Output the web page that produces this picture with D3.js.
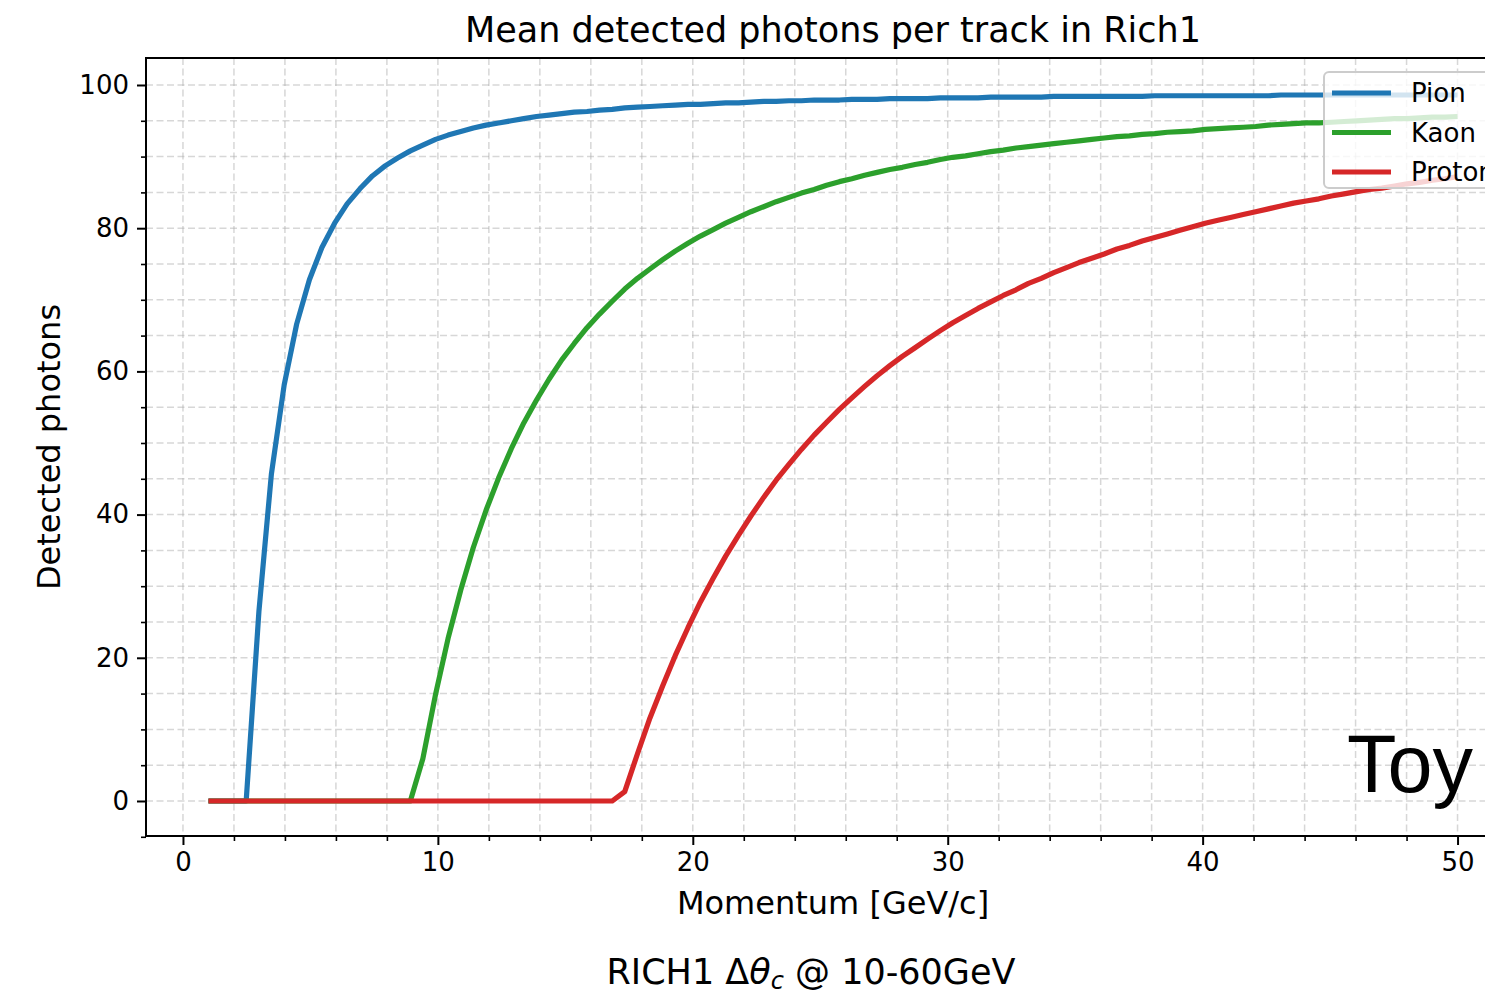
<!DOCTYPE html>
<html><head><meta charset="utf-8">
<script src="https://cdn.jsdelivr.net/npm/d3@7/dist/d3.min.js"></script>
<style>
html,body{margin:0;padding:0;background:#fff;overflow:hidden}
svg{display:block}
text{font-family:"DejaVu Sans",sans-serif;fill:#000}
</style></head><body>
<svg id="chart" width="1485" height="996"></svg>
<script>
// ---- data ----
const momentum = [1.00,1.49,1.99,2.48,2.98,3.47,3.97,4.46,4.96,5.45,5.95,6.44,6.94,7.43,7.93,8.42,8.92,9.41,9.91,10.40,
10.90,11.39,11.89,12.38,12.88,13.37,13.87,14.36,14.86,15.35,15.85,16.34,16.84,17.33,17.83,18.32,18.82,19.31,19.81,20.30,
20.80,21.29,21.79,22.28,22.78,23.27,23.77,24.26,24.76,25.25,25.75,26.24,26.74,27.23,27.73,28.22,28.72,29.21,29.71,30.20,
30.70,31.19,31.69,32.18,32.68,33.17,33.67,34.16,34.66,35.15,35.65,36.14,36.64,37.13,37.63,38.12,38.62,39.11,39.61,40.10,
40.60,41.09,41.59,42.08,42.58,43.07,43.57,44.06,44.56,45.05,45.55,46.04,46.54,47.03,47.53,48.02,48.52,49.01,49.51,50.00];
const pion = [0,0,0,0,26.5,45.7,58.1,66.6,72.8,77.3,80.7,83.4,85.5,87.3,88.7,89.8,90.8,91.6,92.4,93.0,
93.5,94.0,94.4,94.7,95.0,95.3,95.6,95.8,96.0,96.2,96.3,96.5,96.6,96.8,96.9,97.0,97.1,97.2,97.3,97.3,
97.4,97.5,97.5,97.6,97.7,97.7,97.8,97.8,97.9,97.9,97.9,98.0,98.0,98.0,98.1,98.1,98.1,98.1,98.2,98.2,
98.2,98.2,98.3,98.3,98.3,98.3,98.3,98.4,98.4,98.4,98.4,98.4,98.4,98.4,98.4,98.5,98.5,98.5,98.5,98.5,
98.5,98.5,98.5,98.5,98.5,98.6,98.6,98.6,98.6,98.6,98.6,98.6,98.6,98.6,98.6,98.6,98.6,98.6,98.6,98.6];
const kaon = [0,0,0,0,0,0,0,0,0,0,0,0,0,0,0,0,0,5.9,14.9,22.7,
29.5,35.4,40.6,45.1,49.2,52.8,56.0,58.9,61.6,63.9,66.1,68.0,69.8,71.5,73.0,74.3,75.6,76.8,77.9,78.9,
79.8,80.7,81.5,82.3,83.0,83.7,84.3,84.9,85.4,86.0,86.5,86.9,87.4,87.8,88.2,88.5,88.9,89.2,89.6,89.9,
90.1,90.4,90.7,90.9,91.2,91.4,91.6,91.8,92.0,92.2,92.4,92.6,92.8,92.9,93.1,93.2,93.4,93.5,93.6,93.8,
93.9,94.0,94.1,94.2,94.4,94.5,94.6,94.7,94.7,94.8,94.9,95.0,95.1,95.2,95.3,95.3,95.4,95.5,95.5,95.6];
const proton = [0,0,0,0,0,0,0,0,0,0,0,0,0,0,0,0,0,0,0,0,
0,0,0,0,0,0,0,0,0,0,0,0,0,1.3,6.6,11.6,16.1,20.3,24.2,27.8,
31.1,34.2,37.1,39.8,42.4,44.8,47.0,49.1,51.1,52.9,54.7,56.3,57.9,59.4,60.8,62.1,63.3,64.5,65.7,66.8,
67.8,68.8,69.7,70.6,71.4,72.3,73.0,73.8,74.5,75.2,75.8,76.4,77.1,77.6,78.2,78.7,79.2,79.7,80.2,80.7,
81.1,81.5,81.9,82.3,82.7,83.1,83.5,83.8,84.1,84.5,84.8,85.1,85.4,85.6,85.9,86.2,86.4,86.7,86.9,87.2];
const seriesNames = ["Pion","Kaon","Proton"];
const seriesColors = ["#1f77b4","#2ca02c","#d62728"];
const xMajorTicks = [0,10,20,30,40,50];
const xMinorTicks = [2,4,6,8,12,14,16,18,22,24,26,28,32,34,36,38,42,44,46,48,52];
const yMajorTicks = [0,20,40,60,80,100];
const yMinorTicks = [-5,5,10,15,25,30,35,45,50,55,65,70,75,85,90,95];
const titleText = "Mean detected photons per track in Rich1";
const xLabel = "Momentum [GeV/c]";
const yLabel = "Detected photons";

// ---- layout ----
const L = 146, R = 1520, T = 58, B = 836;
const svg = d3.select("#chart");
const x = d3.scaleLinear().domain([-1.45, 52.45]).range([L, R]);
const y = d3.scaleLinear().domain([-4.89, 103.77]).range([B, T]);

svg.append("defs").append("clipPath").attr("id","clip")
  .append("rect").attr("x",L).attr("y",T).attr("width",R-L).attr("height",B-T);

// grid
const grid = svg.append("g").attr("clip-path","url(#clip)");
const allX = xMajorTicks.concat(xMinorTicks), allY = yMajorTicks.concat(yMinorTicks);
grid.selectAll("line.gx").data(allX).join("line")
  .attr("x1",d=>x(d)).attr("x2",d=>x(d)).attr("y1",T).attr("y2",B)
  .attr("stroke","#b0b0b0").attr("stroke-opacity",0.5).attr("stroke-width",1.5).attr("stroke-dasharray","7,3.5");
grid.selectAll("line.gy").data(allY).join("line")
  .attr("y1",d=>y(d)).attr("y2",d=>y(d)).attr("x1",L).attr("x2",R)
  .attr("stroke","#b0b0b0").attr("stroke-opacity",0.5).attr("stroke-width",1.5).attr("stroke-dasharray","7,3.5");

// lines
const data = [pion,kaon,proton];
const line = d3.line().x((d,i)=>x(momentum[i])).y(d=>y(d));
const plot = svg.append("g").attr("clip-path","url(#clip)");
data.forEach((s,i)=>{
  plot.append("path").datum(s).attr("d",line).attr("fill","none")
    .attr("stroke",seriesColors[i]).attr("stroke-width",5.2).attr("stroke-linejoin","round").attr("stroke-linecap","butt");
});

// Toy text
svg.append("text").attr("x",1347).attr("y",792)
  .style("font-family","'Liberation Sans',Arial,sans-serif").style("font-size","81px").text("Toy");

// axes
const fs = "26px";
const xAxis = d3.axisBottom(x).tickValues(xMajorTicks).tickSize(9).tickPadding(8).tickFormat(d3.format("d"));
const gx = svg.append("g").attr("transform",`translate(0,${B})`).call(xAxis);
const gxm = svg.append("g").attr("transform",`translate(0,${B})`)
  .call(d3.axisBottom(x).tickValues(xMinorTicks.filter(d=>d<=50)).tickSize(5).tickFormat(""));
const yAxis = d3.axisLeft(y).tickValues(yMajorTicks).tickSize(9).tickPadding(8).tickFormat(d3.format("d"));
const gy = svg.append("g").attr("transform",`translate(${L},0)`).call(yAxis);
const gym = svg.append("g").attr("transform",`translate(${L},0)`)
  .call(d3.axisLeft(y).tickValues(yMinorTicks).tickSize(5).tickFormat(""));
[gx,gy,gxm,gym].forEach(g=>{
  g.select(".domain").remove();
  g.selectAll("line").attr("stroke","#000");
  g.selectAll("text").style("font-size",fs).style("font-family","'DejaVu Sans',sans-serif").attr("fill","#000");
});
[gx,gy].forEach(g=>g.selectAll("line").attr("stroke-width",2));
[gxm,gym].forEach(g=>g.selectAll("line").attr("stroke-width",1.6));

// spines
svg.append("rect").attr("x",L).attr("y",T).attr("width",R-L).attr("height",B-T)
  .attr("fill","none").attr("stroke","#000").attr("stroke-width",2);

// legend
const lg = svg.append("g");
lg.append("rect").attr("x",1324).attr("y",72).attr("width",200).attr("height",116).attr("rx",5)
  .attr("fill","#fff").attr("fill-opacity",0.8).attr("stroke","#cccccc").attr("stroke-width",2);
seriesNames.forEach((n,i)=>{
  const yy = 93 + i*39.5;
  lg.append("line").attr("x1",1332).attr("x2",1391).attr("y1",yy).attr("y2",yy)
    .attr("stroke",seriesColors[i]).attr("stroke-width",5.2);
  lg.append("text").attr("x",1411).attr("y",yy).attr("dy","0.35em").style("font-size",fs).text(n);
});

// title and labels
svg.append("text").attr("x",(L+R)/2).attr("y",42).attr("text-anchor","middle").style("font-size","35px").text(titleText);
svg.append("text").attr("x",(L+R)/2).attr("y",914).attr("text-anchor","middle").style("font-size","32px").text(xLabel);
svg.append("text").attr("transform",`translate(60,${(T+B)/2}) rotate(-90)`).attr("text-anchor","middle").style("font-size","32px").text(yLabel);

// caption
const cap = svg.append("text").attr("x",811).attr("y",984).attr("text-anchor","middle").style("font-size","35px").attr("fill","#1a1a1a");
cap.append("tspan").text("RICH1 Δ");
cap.append("tspan").style("font-style","italic").text("θ");
cap.append("tspan").style("font-style","italic").style("font-size","24px").attr("dy",5).text("c");
cap.append("tspan").attr("dy",-5).text(" @ 10-60GeV");
</script>
</body></html>
